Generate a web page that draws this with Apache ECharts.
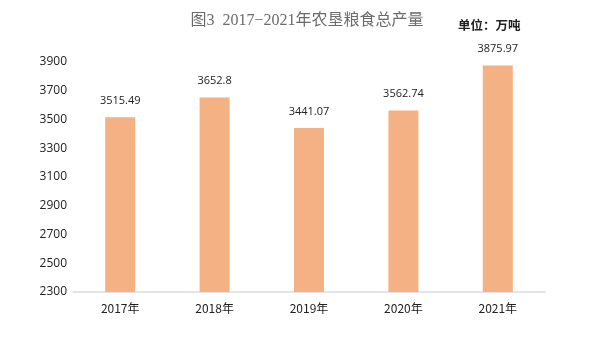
<!DOCTYPE html>
<html><head><meta charset="utf-8">
<script src="https://cdn.jsdelivr.net/npm/echarts@6/dist/echarts.min.js"></script>
<style>html,body{margin:0;padding:0;background:#fff}#c{width:591px;height:338px}</style>
</head><body><div id="c"></div>
<script>
const categories = ['2017年','2018年','2019年','2020年','2021年'];
const values = [3515.49, 3652.8, 3441.07, 3562.74, 3875.97];
const labels = ['3515.49','3652.8','3441.07','3562.74','3875.97'];
const chart = echarts.init(document.getElementById('c'));
chart.setOption({
  animation:false,
  title:{text:'图3  2017−2021年农垦粮食总产量',left:302,top:8,textAlign:'center',
    textStyle:{fontFamily:'Liberation Serif, Noto Sans CJK SC, serif',fontWeight:'normal',fontSize:16,color:'#6b6b6b'}},
  graphic:[{type:'text',left:458,top:19,style:{text:'单位：万吨',font:'bold 12.5px "Noto Sans CJK SC", sans-serif',fill:'#222'}}],
  grid:{left:73,right:46,top:62,bottom:46},
  xAxis:{type:'category',data:categories,axisTick:{show:false},
    axisLine:{lineStyle:{color:'#d9dde6',width:1.5}},
    axisLabel:{color:'#222',fontSize:12,margin:10,fontFamily:'"Noto Sans CJK SC", sans-serif'}},
  yAxis:{type:'value',min:2300,max:3900,interval:200,splitLine:{show:false},
    axisLine:{show:false},axisTick:{show:false},
    axisLabel:{color:'#222',fontSize:12,margin:6,fontFamily:'"Open Sans", "Noto Sans", sans-serif',
      formatter:v=>String(v)}},
  series:[{type:'bar',data:values,barWidth:30,itemStyle:{color:'#F4B183'},
    label:{show:true,position:'top',distance:11,color:'#222',fontSize:11,
      fontFamily:'"Open Sans", "Noto Sans", sans-serif',
      formatter:p=>labels[p.dataIndex]}}]
});
</script></body></html>
